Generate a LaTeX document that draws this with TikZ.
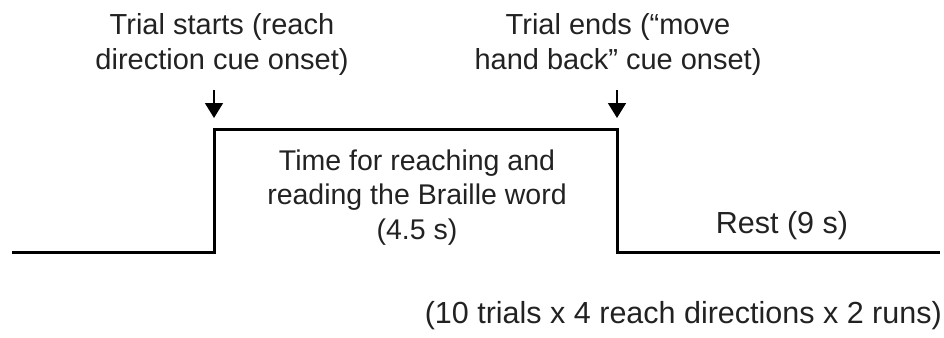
\documentclass[tikz,border=0pt]{standalone}
\usepackage{fontspec}
\setmainfont{Liberation Sans}
\usetikzlibrary{arrows.meta}
\definecolor{inkgray}{HTML}{222222}
\begin{document}
\begin{tikzpicture}[x=1pt,y=-1pt,
  label/.style={inner sep=0pt, align=center, text=inkgray,
    font=\fontsize{30.5}{35}\selectfont},
  small/.style={font=\fontsize{29}{35}\selectfont},
  mid/.style={font=\fontsize{28.5}{34.5}\selectfont},
  trace/.style={line width=3pt, line join=miter},
  cue/.style={line width=1.6pt, -{Triangle[width=18pt,length=15pt]}}]
  \useasboundingbox (0,0) rectangle (944,337);

  % corners of the trial time course
  \coordinate (s0) at (12,252);
  \coordinate (s1) at (214,252);
  \coordinate (s2) at (214,129);
  \coordinate (s3) at (617,129);
  \coordinate (s4) at (617,252);
  \coordinate (s5) at (940,252);
  \draw[trace] (s0) -- (s1) -- (s2) -- (s3) -- (s4) -- (s5);

  % onset markers
  \coordinate (c1a) at (214,90);
  \coordinate (c1b) at (214,118);
  \coordinate (c2a) at (617,90);
  \coordinate (c2b) at (617,118);
  \draw[cue] (c1a) -- (c1b);
  \draw[cue] (c2a) -- (c2b);

  % labels (base anchor sits on the last line)
  \node[label, small, anchor=base] (start) at (222,70) {Trial starts (reach\\direction cue onset)};
  \node[label, small, anchor=base] (stop) at (618,70) {Trial ends (“move\\hand back” cue onset)};
  \node[label, mid, anchor=base] (task) at (417,239) {Time for reaching and\\reading the Braille word\\(4.5 s)};
  \node[label, anchor=base] (rest) at (782,233) {Rest (9 s)};
  \node[label, anchor=base east] (reps) at (942,323) {(10 trials x 4 reach directions x 2 runs)};
\end{tikzpicture}
\end{document}
